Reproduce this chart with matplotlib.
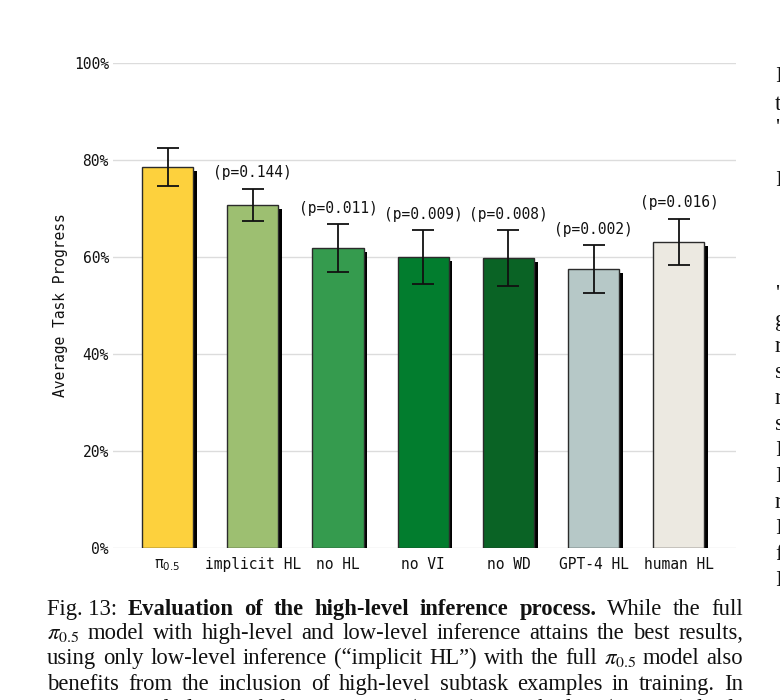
import matplotlib
matplotlib.use("Agg")
import matplotlib.pyplot as plt
import matplotlib.patheffects as pe
import numpy as np

# ---------------- data ----------------
categories = ["π$_{0.5}$", "implicit HL", "no HL", "no VI", "no WD", "GPT-4 HL", "human HL"]
progress = [78.6, 70.8, 61.9, 60.0, 59.8, 57.5, 63.1]
errors = [4.0, 3.3, 4.9, 5.6, 5.7, 5.0, 4.8]
p_values = [None, "0.144", "0.011", "0.009", "0.008", "0.002", "0.016"]
bar_colors = ["#FDD13D", "#9DBF71", "#359B4E", "#027D2E", "#0A6325", "#B6C8C7", "#ECE9E1"]
y_ticks = [0, 20, 40, 60, 80, 100]
y_tick_labels = ["0%", "20%", "40%", "60%", "80%", "100%"]
y_label = "Average Task Progress"

caption_lines = [
    [("Fig. 13:", "normal"), ("Evaluation", "bold"), ("of", "bold"), ("the", "bold"),
     ("high-level", "bold"), ("inference", "bold"), ("process.", "bold"),
     ("While", "normal"), ("the", "normal"), ("full", "normal")],
    [(r"$\pi_{0.5}$", "normal"), ("model", "normal"), ("with", "normal"), ("high-level", "normal"),
     ("and", "normal"), ("low-level", "normal"), ("inference", "normal"), ("attains", "normal"),
     ("the", "normal"), ("best", "normal"), ("results,", "normal")],
    [("using", "normal"), ("only", "normal"), ("low-level", "normal"), ("inference", "normal"),
     ("(\u201cimplicit", "normal"), ("HL\u201d)", "normal"), ("with", "normal"), ("the", "normal"),
     ("full", "normal"), (r"$\pi_{0.5}$", "normal"), ("model", "normal"), ("also", "normal")],
    [("benefits", "normal"), ("from", "normal"), ("the", "normal"), ("inclusion", "normal"),
     ("of", "normal"), ("high-level", "normal"), ("subtask", "normal"), ("examples", "normal"),
     ("in", "normal"), ("training.", "normal"), ("In", "normal")],
    [("contrast,", "normal"), ("excluding", "normal"), ("verbal", "normal"), ("instructions", "normal"),
     ("(no", "normal"), ("VI)", "normal"), ("or", "normal"), ("web", "normal"), ("data", "normal"),
     ("(no", "normal"), ("WD)", "normal"), ("leads", "normal")],
]
side_fragments = ["I", "t", "'", "I", "'", "g", "r", "s", "r", "s", "I", "I", "r", "I", "f", "I"]

# ---------------- figure ----------------
W, H, DPI = 780, 700, 100
fig = plt.figure(figsize=(W / DPI, H / DPI), dpi=DPI)
fig.patch.set_facecolor("white")

left_px, right_px = 113, 736
top_px, bot_px = 63.3, 547.5
ax = fig.add_axes([left_px / W, 1 - bot_px / H, (right_px - left_px) / W, (bot_px - top_px) / H])

mono = "DejaVu Sans Mono"
x = np.arange(len(categories))
bars = ax.bar(x, progress, width=0.60, color=bar_colors, edgecolor="#2b2b2b",
              linewidth=1.0, zorder=3)
for b in bars:
    b.set_path_effects([pe.SimplePatchShadow(offset=(2.6, -2.9), shadow_rgbFace="black", alpha=1.0),
                        pe.Normal()])
ax.errorbar(x, progress, yerr=errors, fmt="none", ecolor="#111111", elinewidth=1.3,
            capsize=8, capthick=1.3, zorder=4)

for xi, m, e, p in zip(x, progress, errors, p_values):
    if p is None:
        continue
    ax.annotate(f"(p={p})", xy=(xi, m + e), xytext=(0, 6), textcoords="offset points",
                ha="center", va="bottom", fontsize=10.5, family=mono, color="#111111",
                annotation_clip=False, zorder=5)

ax.set_xlim(-0.64, 6.67)
ax.set_ylim(0, 100)
ax.set_yticks(y_ticks)
ax.set_yticklabels(y_tick_labels, family=mono, fontsize=10.5)
ax.set_xticks(x)
ax.set_xticklabels(categories, family=mono, fontsize=10.5)
ax.tick_params(axis="y", length=0, pad=3, colors="#111111")
ax.tick_params(axis="x", length=0, pad=7, colors="#111111")
ax.yaxis.grid(True, color="#dcdcdc", linewidth=1.0, zorder=0)
ax.set_axisbelow(True)
for s in ax.spines.values():
    s.set_visible(False)
ax.set_ylabel(y_label, family=mono, fontsize=10.5, color="#111111", labelpad=4)

# ---------------- caption (justified) ----------------
cap_x0, cap_x1 = 47, 743
cap_y = [607, 631, 656, 682, 707]
cap_size = 16.3
serif = "Liberation Serif"
renderer = fig.canvas.get_renderer()
for line, yc in zip(caption_lines, cap_y):
    texts = []
    for word, weight in line:
        t = fig.text(0, 1 - yc / H, word, family=serif, fontsize=cap_size, weight=weight,
                     math_fontfamily="stix", va="center_baseline", ha="left", color="#111111")
        texts.append(t)
    widths = [t.get_window_extent(renderer).width for t in texts]
    gap = (cap_x1 - cap_x0 - sum(widths)) / max(len(texts) - 1, 1)
    gap = max(gap, 3.0)
    xpos = cap_x0
    for t, w in zip(texts, widths):
        t.set_x(xpos / W)
        xpos += w + gap

# fragments of the neighbouring text column, clipped by the page edge
frag_y = [74, 102, 126, 178, 292, 318, 344, 370, 396, 422, 448, 474, 500, 526, 552, 578]
for ch, yc in zip(side_fragments, frag_y):
    fig.text(775 / W, 1 - yc / H, ch, family=serif, fontsize=cap_size, va="center_baseline",
             ha="left", color="#111111")

fig.savefig("out.png", dpi=DPI, facecolor="white")
